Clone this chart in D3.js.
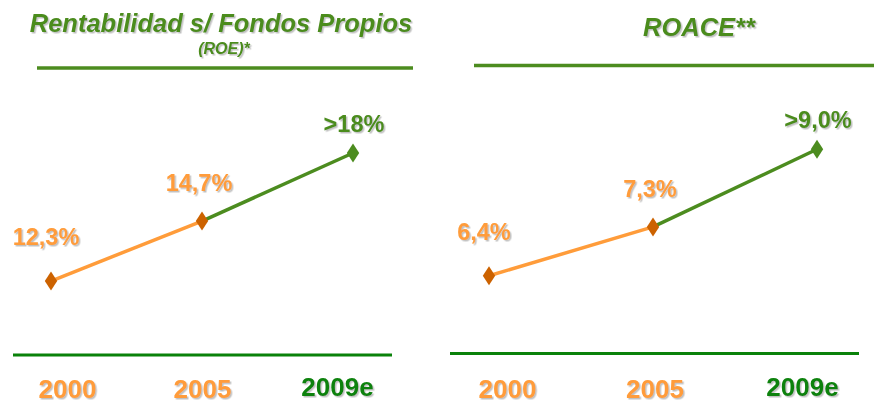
<!DOCTYPE html>
<html>
<head>
<meta charset="utf-8">
<script src="https://cdn.jsdelivr.net/npm/d3@7"></script>
<style>
  html, body { margin: 0; padding: 0; background: #ffffff; }
  svg { display: block; }
  text { font-family: "Liberation Sans", Arial, Helvetica, sans-serif; font-weight: bold; }
</style>
</head>
<body>
<svg id="chart" width="874" height="405"></svg>
<script>
// ---- data ----
const years = ["2000", "2005", "2009e"];
const roeValues = [12.3, 14.7, 18];
const roeLabels = ["12,3%", "14,7%", ">18%"];
const roaceValues = [6.4, 7.3, 9.0];
const roaceLabels = ["6,4%", "7,3%", ">9,0%"];
const roeTitle = "Rentabilidad s/ Fondos Propios";
const roeSubtitle = "(ROE)*";
const roaceTitle = "ROACE**";

// ---- styles ----
const GREEN_T = "#4C8C1F";   // titles, rules, estimate segment
const GREEN_AX = "#0A820A";  // bottom rules, 2009e label
const ORANGE = "#FF9C3A";
const ORANGE_DK = "#CC6200";
const labelColors = [ORANGE, ORANGE, GREEN_T];
const markerColors = [ORANGE_DK, ORANGE_DK, GREEN_T];
const segmentColors = [ORANGE, GREEN_T];
const yearColors = [ORANGE, ORANGE, GREEN_AX];
const labelDx = [-5, -3, 1];
const labelDy = [-36, -30, -21];

const svg = d3.select("#chart");
const defs = svg.append("defs");
const f = defs.append("filter").attr("id", "shadow")
  .attr("x", "-10%").attr("y", "-20%").attr("width", "130%").attr("height", "150%");
f.append("feDropShadow").attr("dx", 1.5).attr("dy", 1.5).attr("stdDeviation", 0.7)
  .attr("flood-color", "#777").attr("flood-opacity", 0.45);

const panels = [
  {
    values: roeValues, labels: roeLabels,
    title: roeTitle, subtitle: roeSubtitle,
    titleX: 221, titleY: 32, titleSize: 25.5,
    topRule: [37, 413, 68], bottomRule: [13, 392, 355],
    xRange: [51, 353], yearRange: [67, 337],
    yDomain: [10, 20], yRange: [350.6, 117.6]
  },
  {
    values: roaceValues, labels: roaceLabels,
    title: roaceTitle, subtitle: null,
    titleX: 699, titleY: 36, titleSize: 25.5,
    topRule: [474, 874, 65.5], bottomRule: [450, 859, 353.5],
    xRange: [489, 817], yearRange: [507, 802],
    yDomain: [5, 10], yRange: [367.3, 110.2]
  }
];

const diamond = "M0,-9.5L6.2,0L0,9.5L-6.2,0Z";

panels.forEach(p => {
  const g = svg.append("g");
  const x = d3.scalePoint().domain(years).range(p.xRange);
  const xYear = d3.scalePoint().domain(years).range(p.yearRange);
  const y = d3.scaleLog().domain(p.yDomain).range(p.yRange);

  // title
  g.append("text")
    .attr("x", p.titleX).attr("y", p.titleY)
    .attr("text-anchor", "middle")
    .attr("font-size", p.titleSize)
    .attr("font-style", "italic")
    .attr("fill", GREEN_T)
    .attr("filter", "url(#shadow)")
    .text(p.title);
  if (p.subtitle) {
    g.append("text")
      .attr("x", 224).attr("y", 54)
      .attr("text-anchor", "middle")
      .attr("font-size", 16)
      .attr("font-style", "italic")
      .attr("fill", GREEN_T)
      .attr("filter", "url(#shadow)")
      .text(p.subtitle);
  }

  // rules
  g.append("line")
    .attr("x1", p.topRule[0]).attr("x2", p.topRule[1])
    .attr("y1", p.topRule[2]).attr("y2", p.topRule[2])
    .attr("stroke", GREEN_T).attr("stroke-width", 3.5);
  g.append("line")
    .attr("x1", p.bottomRule[0]).attr("x2", p.bottomRule[1])
    .attr("y1", p.bottomRule[2]).attr("y2", p.bottomRule[2])
    .attr("stroke", GREEN_AX).attr("stroke-width", 3);

  // segments
  const pts = p.values.map((v, i) => [x(years[i]), y(v)]);
  const segs = d3.pairs(pts);
  g.selectAll(".seg").data(segs).join("line")
    .attr("class", "seg")
    .attr("x1", d => d[0][0]).attr("y1", d => d[0][1])
    .attr("x2", d => d[1][0]).attr("y2", d => d[1][1])
    .attr("stroke", (d, i) => segmentColors[i])
    .attr("stroke-width", 3.5);

  // markers
  g.selectAll(".mk").data(p.values).join("path")
    .attr("class", "mk")
    .attr("d", diamond)
    .attr("transform", (d, i) => `translate(${x(years[i])},${y(d)})`)
    .attr("fill", (d, i) => markerColors[i]);

  // value labels
  g.selectAll(".vl").data(p.values).join("text")
    .attr("class", "vl")
    .attr("x", (d, i) => x(years[i]) + labelDx[i])
    .attr("y", (d, i) => y(d) + labelDy[i])
    .attr("text-anchor", "middle")
    .attr("font-size", 23.5)
    .attr("fill", (d, i) => labelColors[i])
    .attr("filter", "url(#shadow)")
    .text((d, i) => p.labels[i]);

  // year axis
  const ax = g.append("g")
    .attr("transform", "translate(0,380)")
    .call(d3.axisBottom(xYear).tickSize(0).tickPadding(0));
  ax.select(".domain").remove();
  ax.selectAll("text")
    .attr("font-size", 26)
    .attr("font-family", "'Liberation Sans', Arial, sans-serif")
    .attr("font-weight", "bold")
    .attr("fill", (d, i) => yearColors[i])
    .attr("filter", "url(#shadow)")
    .attr("y", (d, i) => i === 2 ? -2 : 0);
});
</script>
</body>
</html>
